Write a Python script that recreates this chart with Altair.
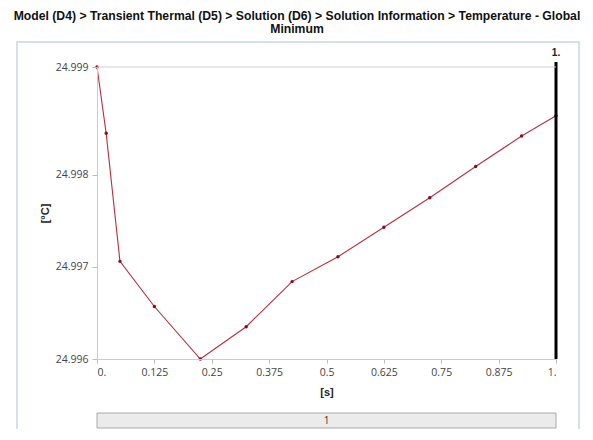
import altair as alt
import pandas as pd

# data
times = [0.0, 0.02, 0.05, 0.125, 0.225, 0.325, 0.425, 0.525, 0.625, 0.725, 0.825, 0.925, 1.0]
temps = [24.99917, 24.99845, 24.99706, 24.99657, 24.99600, 24.99635, 24.99684,
         24.99711, 24.99743, 24.99775, 24.99809, 24.99842, 24.99864]
x_ticks = [0, 0.125, 0.25, 0.375, 0.5, 0.625, 0.75, 0.875, 1.0]
y_ticks = [24.996, 24.997, 24.998, 24.99917]
title_lines = ["Model (D4) > Transient Thermal (D5) > Solution (D6) > Solution Information > Temperature - Global",
               "Minimum"]
step_label = "1"
marker_time = 1.0

W, H = 459, 292
df = pd.DataFrame({"t": times, "T": temps})
one = pd.DataFrame({"a": [0]})

xs = alt.Scale(domain=[0, 1], nice=False, zero=False)
ys = alt.Scale(domain=[24.996, 24.99917], nice=False, zero=False)

x_axis = alt.Axis(
    values=x_ticks, title="[s]",
    labelExpr="datum.value == 0 ? '0.' : datum.value == 1 ? '1.' : format(datum.value, '.3~f')",
    titlePadding=9, labelPadding=4, tickSize=4, zindex=1)
y_axis = alt.Axis(
    values=y_ticks, format=".3f", title="[°C]", titlePadding=5, labelPadding=4, tickSize=5, zindex=1)

frame = alt.Chart(one).mark_rect(fill="none", stroke="#c9d5e6", strokeWidth=1.5).encode(
    x=alt.value(-80), x2=alt.value(482), y=alt.value(-25), y2=alt.value(390))

topline = alt.Chart(one).mark_rule(color="#d0d0d0", strokeWidth=1.2).encode(
    x=alt.value(0), x2=alt.value(W), y=alt.value(0))

line = alt.Chart(df).mark_line(color="#b5303f", strokeWidth=1.1).encode(
    x=alt.X("t:Q", scale=xs, axis=x_axis), y=alt.Y("T:Q", scale=ys, axis=y_axis))
pts = alt.Chart(df).mark_circle(color="#8a0a1e", size=12, opacity=1).encode(
    x=alt.X("t:Q", scale=xs, axis=x_axis), y=alt.Y("T:Q", scale=ys, axis=y_axis))

rule = alt.Chart(pd.DataFrame({"t": [marker_time]})).mark_rule(color="black", strokeWidth=3).encode(
    x=alt.X("t:Q", scale=xs, axis=x_axis), y=alt.value(-5), y2=alt.value(H))
rule_lbl = alt.Chart(pd.DataFrame({"t": [marker_time], "lbl": ["1."]})).mark_text(
    font="Liberation Sans", fontWeight="bold", fontSize=10, color="#222", baseline="middle").encode(
    x=alt.X("t:Q", scale=xs, axis=x_axis), y=alt.value(-14), text="lbl:N")

bar = alt.Chart(one).mark_rect(fill="#ebebeb", stroke="#a9a9a9", strokeWidth=1).encode(
    x=alt.value(0), x2=alt.value(W), y=alt.value(346), y2=alt.value(361))
bar_txt = alt.Chart(pd.DataFrame({"s": [step_label]})).mark_text(
    font="Open Sans", fontSize=10, color="#333", baseline="middle").encode(
    x=alt.value(W / 2), y=alt.value(353.5), text="s:N")

title1 = alt.Chart(pd.DataFrame({"s": [title_lines[0]]})).mark_text(
    font="Liberation Sans", fontWeight="bold", fontSize=12.2, color="#111", baseline="middle").encode(
    x=alt.value(200), y=alt.value(-51), text="s:N")
title2 = alt.Chart(pd.DataFrame({"s": [title_lines[1]]})).mark_text(
    font="Liberation Sans", fontWeight="bold", fontSize=12.2, color="#111", baseline="middle").encode(
    x=alt.value(200), y=alt.value(-38), text="s:N")

chart = alt.layer(line, pts, rule, rule_lbl, frame, topline, bar, bar_txt, title1, title2).properties(
    width=W, height=H,
    autosize=alt.AutoSizeParams(type="none"),
    padding={"left": 89, "top": 59, "right": 28, "bottom": 70},
).configure_view(stroke=None).configure_axis(
    grid=False, domainColor="#cccccc", tickColor="#bbbbbb", labelColor="#444444",
    labelFont="Open Sans", labelFontSize=10.5, titleFont="Liberation Sans",
    titleFontWeight="bold", titleFontSize=11, titleColor="#222222"
)

chart.save("out.html", embed_options={"renderer": "svg", "actions": False})
